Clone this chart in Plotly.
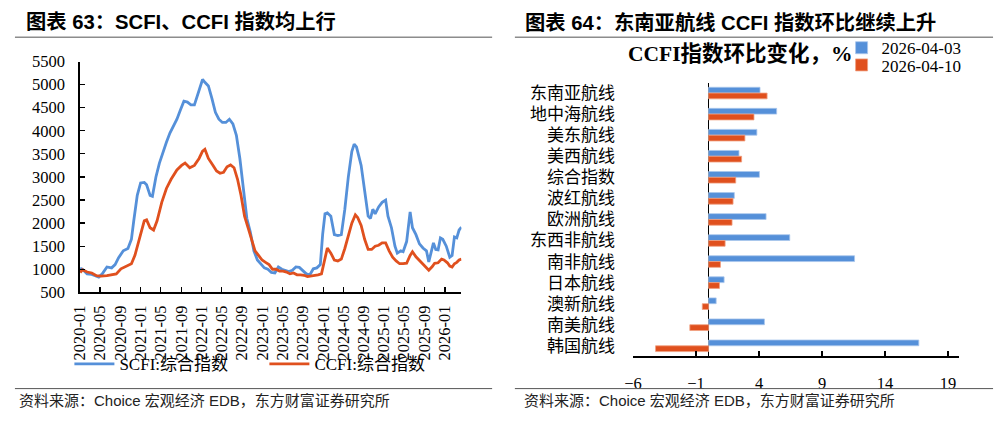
import plotly.graph_objects as go

# ---------------- Data: left chart (weekly index readings) ----------------
scfi_dates = [
    "2020-01-03", "2020-01-17", "2020-02-14", "2020-03-13", "2020-04-10", "2020-04-24", "2020-05-15",
    "2020-06-12", "2020-07-10", "2020-07-31", "2020-08-21", "2020-09-18", "2020-10-16", "2020-11-06",
    "2020-11-20", "2020-12-11", "2020-12-31", "2021-01-22", "2021-02-05", "2021-02-26", "2021-03-12",
    "2021-04-02", "2021-04-23", "2021-05-14", "2021-06-04", "2021-06-25", "2021-07-16", "2021-08-06",
    "2021-08-27", "2021-09-17", "2021-10-08", "2021-10-29", "2021-11-19", "2021-12-10", "2021-12-31",
    "2022-01-07", "2022-01-21", "2022-02-11", "2022-03-04", "2022-03-25", "2022-04-15", "2022-05-06",
    "2022-05-27", "2022-06-17", "2022-07-08", "2022-07-29", "2022-08-19", "2022-09-09", "2022-09-30",
    "2022-10-21", "2022-11-11", "2022-12-02", "2022-12-23", "2023-01-13", "2023-02-03", "2023-02-24",
    "2023-03-17", "2023-04-07", "2023-04-28", "2023-05-19", "2023-06-09", "2023-06-30", "2023-07-21",
    "2023-08-11", "2023-09-01", "2023-09-22", "2023-10-13", "2023-11-03", "2023-11-24", "2023-12-15",
    "2023-12-29", "2024-01-12", "2024-01-26", "2024-02-16", "2024-03-08", "2024-03-29", "2024-04-19",
    "2024-05-10", "2024-05-31", "2024-06-21", "2024-07-05", "2024-07-19", "2024-08-02", "2024-08-16",
    "2024-09-06", "2024-09-27", "2024-10-11", "2024-10-25", "2024-11-08", "2024-11-29", "2024-12-20",
    "2025-01-10", "2025-01-24", "2025-02-14", "2025-03-07", "2025-03-21", "2025-04-11", "2025-04-25",
    "2025-05-16", "2025-06-06", "2025-06-20", "2025-07-11", "2025-08-01", "2025-08-22", "2025-09-12",
    "2025-09-26", "2025-10-24", "2025-11-07", "2025-11-21", "2025-12-05", "2025-12-19", "2026-01-09",
    "2026-01-30", "2026-02-13", "2026-02-27", "2026-03-13", "2026-03-27", "2026-04-10",
]
scfi_values = [
    1020, 1000, 900, 890, 850, 830, 900,
    1050, 1030, 1100, 1250, 1400, 1450, 1650,
    2050, 2600, 2870, 2880, 2830, 2600, 2580,
    3000, 3300, 3550, 3750, 3950, 4100, 4250,
    4450, 4640, 4620, 4560, 4560, 4800, 5050,
    5110, 5050, 4970, 4700, 4400, 4250, 4180,
    4180, 4250, 4150, 3900, 3400, 2800, 2100,
    1800, 1400, 1200, 1110, 1030, 1000, 930,
    920, 1050, 1000, 980, 950, 980, 1050,
    1040, 980, 900, 880, 1010, 1030, 1100,
    1760, 2200, 2220, 2150, 1750, 1730, 1750,
    2300, 3000, 3550, 3710, 3650, 3450, 3250,
    2700, 2150, 2100, 2300, 2200, 2350, 2450,
    2500, 2150, 1900, 1500, 1350, 1400, 1380,
    1600, 2240, 1900, 1750, 1550, 1460, 1400,
    1160, 1570, 1430, 1420, 1680, 1650, 1500,
    1260, 1300, 1700, 1680, 1850, 1910,
]

ccfi_dates = [
    "2020-01-03", "2020-01-17", "2020-02-14", "2020-03-13", "2020-04-10", "2020-05-08", "2020-06-12",
    "2020-07-10", "2020-08-07", "2020-09-04", "2020-10-02", "2020-11-06", "2020-11-27", "2020-12-25",
    "2021-01-22", "2021-02-05", "2021-02-26", "2021-03-19", "2021-04-09", "2021-05-07", "2021-06-04",
    "2021-07-02", "2021-08-06", "2021-09-03", "2021-09-24", "2021-10-22", "2021-11-19", "2021-12-17",
    "2022-01-07", "2022-01-21", "2022-02-11", "2022-03-11", "2022-04-01", "2022-04-22", "2022-05-13",
    "2022-06-03", "2022-06-24", "2022-07-15", "2022-08-05", "2022-08-26", "2022-09-16", "2022-10-07",
    "2022-10-28", "2022-11-18", "2022-12-09", "2022-12-30", "2023-01-20", "2023-02-10", "2023-03-03",
    "2023-03-24", "2023-04-14", "2023-05-05", "2023-05-26", "2023-06-16", "2023-07-07", "2023-07-28",
    "2023-08-18", "2023-09-08", "2023-09-29", "2023-10-20", "2023-11-10", "2023-12-01", "2023-12-22",
    "2024-01-12", "2024-01-26", "2024-02-16", "2024-03-08", "2024-03-29", "2024-04-19", "2024-05-10",
    "2024-05-31", "2024-06-21", "2024-07-12", "2024-07-26", "2024-08-16", "2024-09-06", "2024-09-27",
    "2024-10-18", "2024-11-08", "2024-11-29", "2024-12-20", "2025-01-10", "2025-01-31", "2025-02-21",
    "2025-03-14", "2025-04-04", "2025-04-25", "2025-05-16", "2025-06-06", "2025-06-20", "2025-07-11",
    "2025-08-01", "2025-08-22", "2025-09-12", "2025-09-26", "2025-10-17", "2025-10-31", "2025-11-21",
    "2025-12-12", "2025-12-26", "2026-01-16", "2026-01-30", "2026-02-13", "2026-02-27", "2026-03-13",
    "2026-03-27", "2026-04-10",
]
ccfi_values = [
    930, 990, 940, 920, 860, 850, 860,
    880, 900, 1010, 1060, 1120, 1300, 1700,
    2050, 2070, 1900, 1850, 2050, 2450, 2750,
    2950, 3150, 3250, 3300, 3200, 3250, 3400,
    3560, 3600, 3400, 3250, 3130, 3080, 3100,
    3220, 3260, 3200, 2950, 2600, 2150, 1900,
    1650, 1400, 1300, 1200, 1150, 1100, 1000,
    1000, 960, 960, 940, 900, 920, 880,
    880, 870, 840, 850, 870, 880, 900,
    1250, 1460, 1350, 1200, 1180, 1220, 1450,
    1750, 2000, 2180, 2120, 1950, 1650, 1430,
    1430, 1500, 1520, 1570, 1570, 1400, 1260,
    1180, 1120, 1120, 1130, 1300, 1380, 1270,
    1190, 1120, 1050, 980, 1060, 1130, 1140,
    1220, 1200, 1140, 1070, 1050, 1120, 1150,
    1200, 1220,
]

# ---------------- Data: right chart (week-on-week change, %) ----------------
routes = ["东南亚航线", "地中海航线", "美东航线", "美西航线", "综合指数", "波红航线", "欧洲航线",
          "东西非航线", "南非航线", "日本航线", "澳新航线", "南美航线", "韩国航线"]
chg_0403 = [4.08, 5.40, 3.83, 2.41, 4.03, 2.04, 4.56, 6.44, 11.58, 1.23, 0.60, 4.43, 16.68]
chg_0410 = [4.64, 3.60, 2.88, 2.62, 2.15, 1.94, 1.86, 1.31, 0.94, 0.86, -0.50, -1.49, -4.21]

BLUE = "#5590D9"
ORANGE = "#E0501E"
SERIF = "Liberation Serif, 'Noto Sans CJK SC', serif"
SANS = "Liberation Sans, 'Noto Sans CJK SC', sans-serif"

W, H = 998, 422


def px_x(x):
    return x / W


def px_y(y):
    return 1 - y / H


fig = go.Figure()

fig.add_trace(go.Scatter(x=scfi_dates, y=scfi_values, mode="lines", name="SCFI:综合指数",
                         line=dict(color=BLUE, width=2.8), xaxis="x", yaxis="y", legend="legend"))
fig.add_trace(go.Scatter(x=ccfi_dates, y=ccfi_values, mode="lines", name="CCFI:综合指数",
                         line=dict(color=ORANGE, width=2.8), xaxis="x", yaxis="y", legend="legend"))

fig.add_trace(go.Bar(y=routes, x=chg_0403, orientation="h", name="2026-04-03",
                     marker=dict(color=BLUE, line=dict(color="#A9C6EC", width=0.8)),
                     xaxis="x2", yaxis="y2", legend="legend2"))
fig.add_trace(go.Bar(y=routes, x=chg_0410, orientation="h", name="2026-04-10",
                     marker=dict(color=ORANGE, line=dict(color="#F0A080", width=0.8)),
                     xaxis="x2", yaxis="y2", legend="legend3"))

small_legend = dict(orientation="v", xanchor="left", yanchor="middle",
                    font=dict(family=SERIF, size=17, color="black"),
                    bgcolor="rgba(0,0,0,0)", itemwidth=30)

fig.update_layout(
    width=W, height=H,
    margin=dict(l=0, r=0, t=0, b=0),
    paper_bgcolor="white", plot_bgcolor="white",
    barmode="group", bargap=0.45, bargroupgap=0,
    showlegend=True,
    hovermode=False,
    xaxis=dict(
        domain=[px_x(70.5), px_x(456)], anchor="y", type="date",
        range=["2020-01-01", "2026-04-10"],
        tick0="2020-01-01", dtick="M4", tickformat="%Y-%m", tickangle=-90,
        showline=True, linecolor="black", linewidth=1.5,
        ticks="inside", ticklen=5, tickcolor="black", tickwidth=1.2,
        showgrid=False, zeroline=False, ticklabelstandoff=5,
        tickfont=dict(family=SERIF, size=16.5, color="black"),
    ),
    yaxis=dict(
        domain=[px_y(296.7), px_y(55)], anchor="x",
        range=[500, 5500], dtick=500, tick0=500,
        showline=True, linecolor="black", linewidth=1.5,
        ticks="inside", ticklen=5, tickcolor="black", tickwidth=1.2,
        showgrid=False, zeroline=False, ticklabelstandoff=10,
        tickfont=dict(family=SERIF, size=16.5, color="black"),
    ),
    xaxis2=dict(
        domain=[px_x(629.3), px_x(959)], anchor="y2",
        range=[-6, 19.9], tick0=-6, dtick=5,
        showline=True, linecolor="black", linewidth=1.5,
        ticks="inside", ticklen=5, tickcolor="black", tickwidth=1.2,
        showgrid=False, zeroline=True, zerolinecolor="black", zerolinewidth=1.5,
        ticklabelstandoff=11,
        tickfont=dict(family=SERIF, size=16.5, color="black"),
    ),
    yaxis2=dict(
        domain=[px_y(363.7), px_y(77)], anchor="x2",
        type="category", categoryorder="array", categoryarray=routes, autorange="reversed",
        showline=False, ticks="", showgrid=False, zeroline=False,
        ticklabelstandoff=17,
        tickfont=dict(family=SERIF, size=17, color="black"),
    ),
    legend=dict(
        orientation="h", x=px_x(60), y=px_y(372), xanchor="left", yanchor="middle",
        font=dict(family=SERIF, size=17, color="black"),
        bgcolor="rgba(0,0,0,0)", itemwidth=40, entrywidth=140,
    ),
    legend2=dict(small_legend, x=px_x(840), y=px_y(41)),
    legend3=dict(small_legend, x=px_x(840), y=px_y(59)),
)

# Titles, rules and footers
annotations = [
    dict(text="<b>图表 63：SCFI、CCFI 指数均上行</b>", x=px_x(14), y=px_y(14),
         font=dict(family=SANS, size=20.3, color="black")),
    dict(text="<b>图表 64：东南亚航线 CCFI 指数环比继续上升</b>", x=px_x(518), y=px_y(14),
         font=dict(family=SANS, size=20.3, color="black")),
    dict(text="资料来源：Choice 宏观经济 EDB，东方财富证券研究所", x=px_x(7), y=px_y(410),
         font=dict(family=SANS, size=15, color="#222")),
    dict(text="资料来源：Choice 宏观经济 EDB，东方财富证券研究所", x=px_x(517), y=px_y(410),
         font=dict(family=SANS, size=15, color="#222")),
    dict(text="<b>CCFI指数环比变化，%</b>", x=px_x(622), y=px_y(47),
         font=dict(family=SERIF, size=21.5, color="black")),
]
for a in annotations:
    a.update(xref="paper", yref="paper", xanchor="left", yanchor="middle", showarrow=False)
fig.update_layout(annotations=annotations)

shapes = [
    dict(type="line", x0=px_x(5), x1=px_x(487), y0=px_y(29.5), y1=px_y(29.5),
         line=dict(color="#8c8c8c", width=1.5)),
    dict(type="line", x0=px_x(510), x1=px_x(993), y0=px_y(29.5), y1=px_y(29.5),
         line=dict(color="#8c8c8c", width=1.5)),
    dict(type="line", x0=px_x(5), x1=px_x(487), y0=px_y(397.5), y1=px_y(397.5),
         line=dict(color="#555", width=1)),
    dict(type="line", x0=px_x(510), x1=px_x(993), y0=px_y(397.5), y1=px_y(397.5),
         line=dict(color="#555", width=1)),
]
for s in shapes:
    s.update(xref="paper", yref="paper")
fig.update_layout(shapes=shapes)

fig.write_html("out.html", config={"displayModeBar": False, "staticPlot": True})
